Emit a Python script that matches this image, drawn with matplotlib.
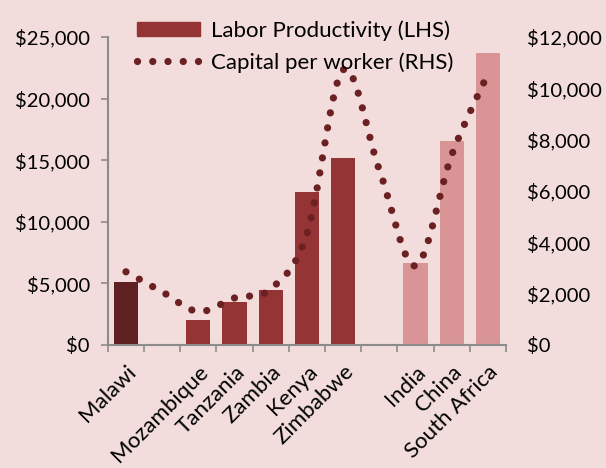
import numpy as np
import matplotlib.pyplot as plt
from matplotlib.ticker import FuncFormatter

countries = ["Malawi", "", "Mozambique", "Tanzania", "Zambia", "Kenya",
             "Zimbabwe", "", "India", "China", "South Africa"]
# labor productivity, LHS (None = spacer slot)
labor = [5100, None, 2050, 3500, 4450, 12400, 15150, None, 6650, 16550, 23700]
# capital per worker, RHS
capital = [2850, 2070, 1300, 1830, 2180, 4320, 10720, 6820, 3080, 7400, 10560]
bar_colors = ["#5e2021", None, "#943434", "#943434", "#943434", "#943434",
              "#943434", None, "#d99595", "#d99595", "#d99595"]

bg = "#f2dcdc"
line_col = "#6b2022"


def smooth(xs, ys, n=40):
    # Excel-style smoothed line (uniform Catmull-Rom through the points)
    p = np.column_stack([xs, ys]).astype(float)
    p = np.vstack([p[0], p, p[-1]])
    out = []
    for i in range(1, len(p) - 2):
        p0, p1, p2, p3 = p[i - 1], p[i], p[i + 1], p[i + 2]
        c1 = p1 + (p2 - p0) / 6
        c2 = p2 - (p3 - p1) / 6
        t = np.linspace(0, 1, n)[:, None]
        seg = ((1 - t) ** 3) * p1 + 3 * ((1 - t) ** 2) * t * c1 + 3 * (1 - t) * t ** 2 * c2 + t ** 3 * p2
        out.append(seg if i == 1 else seg[1:])
    out = np.vstack(out)
    return out[:, 0], out[:, 1]


plt.rcParams['font.family'] = ['Lato', 'DejaVu Sans']
fig = plt.figure(figsize=(6.06, 4.68), dpi=100, facecolor=bg)
ax = fig.add_axes([0.178, 0.263, 0.657, 0.658], facecolor=bg)
ax2 = ax.twinx()

x = np.arange(len(countries))
for i, (v, c) in enumerate(zip(labor, bar_colors)):
    if v is not None:
        ax.bar(x[i], v, width=0.67, color=c, zorder=2)

sx, sy = smooth(x, capital)
dots = dict(color=line_col, lw=5.2, linestyle=(0, (0.01, 2.1)),
            dash_capstyle='round')
ax2.plot(sx, sy, zorder=3, **dots)

ax.set_xlim(-0.5, len(countries) - 0.5)
ax.set_ylim(0, 25000)
ax2.set_ylim(0, 12000)
ax.set_yticks(np.arange(0, 25001, 5000))
ax2.set_yticks(np.arange(0, 12001, 2000))
fmt = FuncFormatter(lambda v, _: "${:,.0f}".format(v))
ax.yaxis.set_major_formatter(fmt)
ax2.yaxis.set_major_formatter(fmt)

ax.set_xticks(x)
ax.set_xticklabels(countries, rotation=45, ha='right', rotation_mode='anchor')
ax.set_xticks(np.arange(-0.5, len(countries)), minor=True)
ax.tick_params(axis='x', which='major', length=0, pad=12, labelsize=16)
ax.tick_params(axis='x', which='minor', length=5, color='#8c8c8c', width=1.2)
ax.tick_params(axis='y', length=5, color='#8c8c8c', width=1.2, labelsize=14.5, pad=8)
ax2.tick_params(axis='y', length=0, labelsize=14.5, pad=15)

for a in (ax, ax2):
    for s in ('top', 'right', 'left'):
        a.spines[s].set_visible(False)
ax.spines['left'].set_visible(True)
ax.spines['left'].set_color('#8c8c8c')
ax.spines['left'].set_linewidth(1.5)
ax.spines['bottom'].set_color('#8c8c8c')
ax.spines['bottom'].set_linewidth(1.5)
ax2.spines['bottom'].set_visible(False)

h1 = plt.Rectangle((0, 0), 1, 1, color="#943434")
h2, = ax2.plot([], [], **dots)
fig.legend([h1, h2], ["Labor Productivity (LHS)", "Capital per worker (RHS)"],
           loc='upper left', bbox_to_anchor=(0.2, 0.99), frameon=False,
           fontsize=16, handlelength=2.85, handleheight=0.55, handletextpad=0.5,
           labelspacing=0.5, borderaxespad=0.3)

fig.savefig("out.png", dpi=100, facecolor=bg)
